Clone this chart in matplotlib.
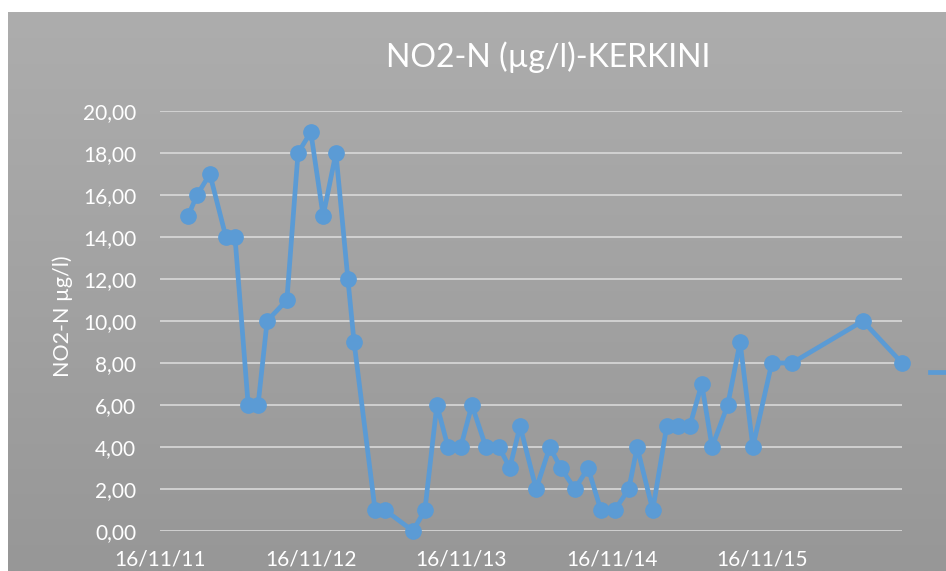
import numpy as np
import pandas as pd
import matplotlib
matplotlib.use("Agg")
import matplotlib.pyplot as plt
import matplotlib.dates as mdates
from matplotlib.lines import Line2D

# sample dates and NO2-N values (µg/l)
dates = [
    "2012-01-23", "2012-02-14", "2012-03-16", "2012-04-24", "2012-05-16",
    "2012-06-17", "2012-07-11", "2012-08-02", "2012-09-19", "2012-10-16",
    "2012-11-16", "2012-12-16", "2013-01-16", "2013-02-14", "2013-03-01",
    "2013-04-21", "2013-05-15", "2013-07-22", "2013-08-20", "2013-09-18",
    "2013-10-15", "2013-11-15", "2013-12-12", "2014-01-15", "2014-02-16",
    "2014-03-14", "2014-04-08", "2014-05-17", "2014-06-19", "2014-07-16",
    "2014-08-19", "2014-09-20", "2014-10-21", "2014-11-24", "2014-12-28",
    "2015-01-17", "2015-02-24", "2015-03-30", "2015-04-26", "2015-05-25",
    "2015-06-23", "2015-07-18", "2015-08-25", "2015-09-24", "2015-10-25",
    "2015-12-10", "2016-01-28", "2016-07-18", "2016-10-21",
]
no2 = [
    15, 16, 17, 14, 14, 6, 6, 10, 11, 18,
    19, 15, 18, 12, 9, 1, 1, 0, 1, 6,
    4, 4, 6, 4, 4, 3, 5, 2, 4, 3,
    2, 3, 1, 1, 2, 4, 1, 5, 5, 5,
    7, 4, 6, 9, 4, 8, 8, 10, 8,
]
tick_dates = ["2011-11-16", "2012-11-16", "2013-11-16", "2014-11-16", "2015-11-16"]
y_ticks = [0, 2, 4, 6, 8, 10, 12, 14, 16, 18, 20]

dates = pd.to_datetime(dates)
tick_dates = pd.to_datetime(tick_dates)

plt.rcParams['font.family'] = ['Lato', 'DejaVu Sans']
blue = '#5B9BD5'

fig = plt.figure(figsize=(9.46, 5.71), dpi=100, facecolor='white')

# grey gradient chart background
bg = fig.add_axes([8 / 946, 0, 1 - 8 / 946, 1 - 12 / 571])
grad = np.linspace(0, 1, 256).reshape(-1, 1)
bg.imshow(grad, aspect='auto', cmap=matplotlib.colors.LinearSegmentedColormap.from_list(
    'g', ['#adadad', '#979797']), extent=[0, 1, 0, 1])
bg.set_axis_off()

ax = fig.add_axes([160 / 946, 1 - 531 / 571, (902 - 160) / 946, 420 / 571])
ax.set_facecolor('none')

ax.plot(dates, no2, color=blue, lw=3.4, marker='o', markersize=11,
        solid_joinstyle='round', zorder=3, clip_on=False)

ax.set_xlim(tick_dates[0], dates[-1])
ax.set_ylim(0, 20)
ax.set_yticks(y_ticks)
ax.set_yticklabels([f"{v:.2f}".replace('.', ',') for v in y_ticks])
ax.set_xticks(tick_dates)
ax.xaxis.set_major_formatter(mdates.DateFormatter('%d/%m/%y'))

ax.grid(axis='y', color='#d9d9d9', lw=1.2, zorder=1)
ax.set_axisbelow(True)
for s in ax.spines.values():
    s.set_visible(False)
ax.tick_params(axis='both', length=0, colors='white', labelsize=15)
ax.tick_params(axis='y', pad=17)
ax.tick_params(axis='x', pad=13)

fig.text(63 / 946, 1 - 316 / 571, 'NO2-N µg/l)', color='white', fontsize=15.5,
         rotation=90, ha='center', va='center')
fig.text(548 / 946, 1 - 57 / 571, 'NO2-N (µg/l)-KERKINI', color='white',
         fontsize=23, ha='center', va='center')

# legend sits at the right edge, its text falls outside the picture
fig.legend(handles=[Line2D([], [], color=blue, lw=3.4)], labels=[''],
           loc='center left', bbox_to_anchor=(930 / 946, 1 - 373 / 571),
           frameon=False, borderpad=0, borderaxespad=0, handlelength=1.4,
           fontsize=14)

fig.savefig('out.png', dpi=100, facecolor='white')
